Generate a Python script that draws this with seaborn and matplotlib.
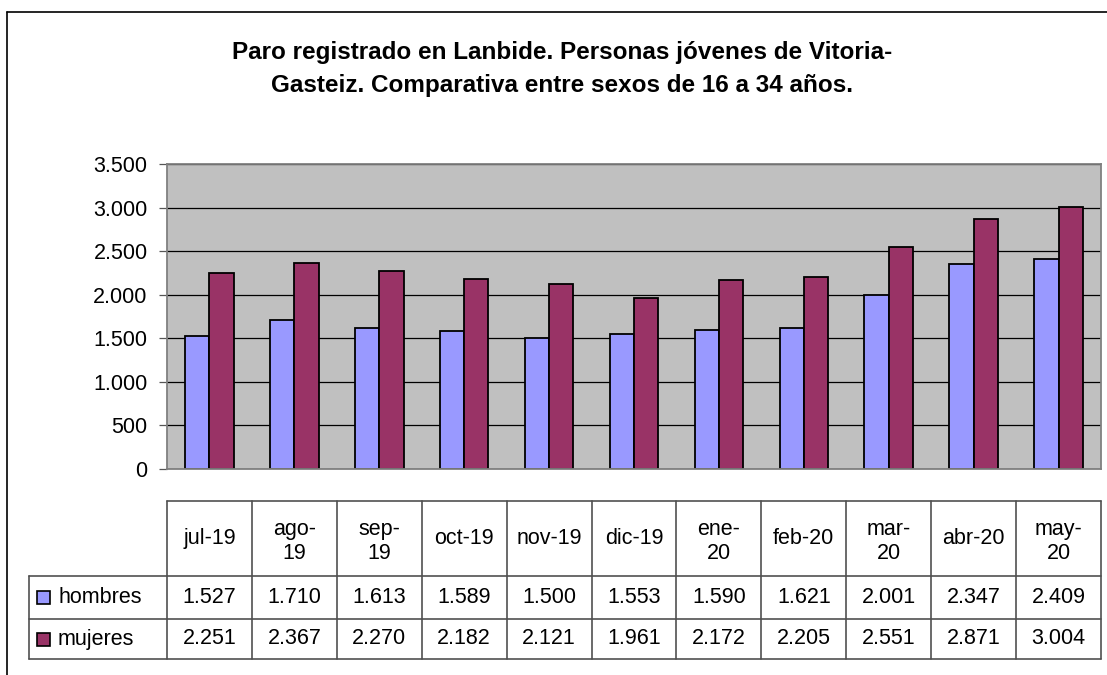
#!/usr/bin/env python3

import matplotlib
matplotlib.use("Agg")
import matplotlib.pyplot as plt
import seaborn as sns
import pandas as pd
from matplotlib.patches import Rectangle
from matplotlib.lines import Line2D

# datos de la tabla
meses = ["jul-19", "ago-\n19", "sep-\n19", "oct-19", "nov-19", "dic-19",
         "ene-\n20", "feb-20", "mar-\n20", "abr-20", "may-\n20"]
hombres = [1527, 1710, 1613, 1589, 1500, 1553, 1590, 1621, 2001, 2347, 2409]
mujeres = [2251, 2367, 2270, 2182, 2121, 1961, 2172, 2205, 2551, 2871, 3004]
series = ["hombres", "mujeres"]
colores = {"hombres": "#9999FF", "mujeres": "#993366"}
y_ticks = [0, 500, 1000, 1500, 2000, 2500, 3000, 3500]
titulo = ("Paro registrado en Lanbide. Personas jóvenes de Vitoria-\n"
          "Gasteiz. Comparativa entre sexos de 16 a 34 años.")


def miles(v):
    return f"{v:,}".replace(",", ".")


df = pd.DataFrame({
    "mes": meses * 2,
    "sexo": ["hombres"] * len(meses) + ["mujeres"] * len(meses),
    "valor": hombres + mujeres,
})

sns.set_style("white")
plt.rcParams["font.family"] = ["Liberation Sans", "DejaVu Sans"]

W, H = 1107, 675
fig = plt.figure(figsize=(W / 100, H / 100), dpi=100)

# marco exterior (cortado a la derecha y abajo)
fig.add_artist(Line2D([7 / W, 1], [1 - 12 / H, 1 - 12 / H], color="black", lw=1.2))
fig.add_artist(Line2D([7 / W, 7 / W], [1 - 12 / H, 0], color="black", lw=1.2))

fig.text(562 / W, 1 - 69 / H, titulo, ha="center", va="center",
         fontsize=17.5, fontweight="bold", linespacing=1.6, color="black")

# area del grafico
x0, x1, y_top, y_bot = 167, 1101, 164, 469
ax = fig.add_axes([x0 / W, 1 - y_bot / H, (x1 - x0) / W, (y_bot - y_top) / H])
sns.barplot(data=df, x="mes", y="valor", hue="sexo", hue_order=series,
            palette=colores, width=0.572, gap=0, edgecolor="black",
            linewidth=1.3, saturation=1, legend=False, ax=ax)
ax.set_facecolor("#C0C0C0")
ax.set_ylim(0, 3500)
ax.set_xlim(-0.5, len(meses) - 0.5)
ax.set_yticks(y_ticks)
ax.set_yticklabels([miles(v) for v in y_ticks], fontsize=15.5, color="black")
ax.set_xticks([])
ax.set_xlabel("")
ax.set_ylabel("")
ax.yaxis.grid(True, color="black", lw=0.9)
ax.set_axisbelow(True)
ax.tick_params(axis="y", left=True, length=6, width=0.9, color="#555555", pad=8)
for s in ax.spines.values():
    s.set_color("#808080")
    s.set_linewidth(1.3)

# tabla de datos
t_left, t_right = 29, x1
rows = [501, 576, 619, 659]
tab = fig.add_axes([t_left / W, 1 - rows[-1] / H, (t_right - t_left) / W,
                    (rows[-1] - rows[0]) / H])
tab.set_xlim(t_left, t_right)
tab.set_ylim(rows[-1], rows[0])
tab.axis("off")
cw = (x1 - x0) / len(meses)
lc = "#505050"
kw = dict(color=lc, lw=1.2, clip_on=False)
tab.plot([x0, x1], [rows[0], rows[0]], **kw)
for r in rows[1:]:
    tab.plot([t_left, x1], [r, r], **kw)
for i in range(len(meses) + 1):
    tab.plot([x0 + i * cw] * 2, [rows[0], rows[-1]], **kw)
tab.plot([t_left, t_left], [rows[1], rows[-1]], **kw)

fs = 15.5
for i, m in enumerate(meses):
    cx = x0 + (i + 0.5) * cw
    dy = 3 if "\n" in m else 0
    tab.text(cx, (rows[0] + rows[1]) / 2 + dy, m, ha="center", va="center",
             fontsize=fs, linespacing=1.22, color="black")
    tab.text(cx, (rows[1] + rows[2]) / 2, miles(hombres[i]), ha="center",
             va="center", fontsize=fs, color="black")
    tab.text(cx, (rows[2] + rows[3]) / 2, miles(mujeres[i]), ha="center",
             va="center", fontsize=fs, color="black")

for j, s in enumerate(series):
    yc = (rows[j + 1] + rows[j + 2]) / 2
    tab.add_patch(Rectangle((37, yc - 6.5), 13, 13, facecolor=colores[s],
                            edgecolor="black", lw=1.2, clip_on=False))
    tab.text(58, yc, s, ha="left", va="center", fontsize=fs, color="black")

fig.savefig("out.png", dpi=100)
